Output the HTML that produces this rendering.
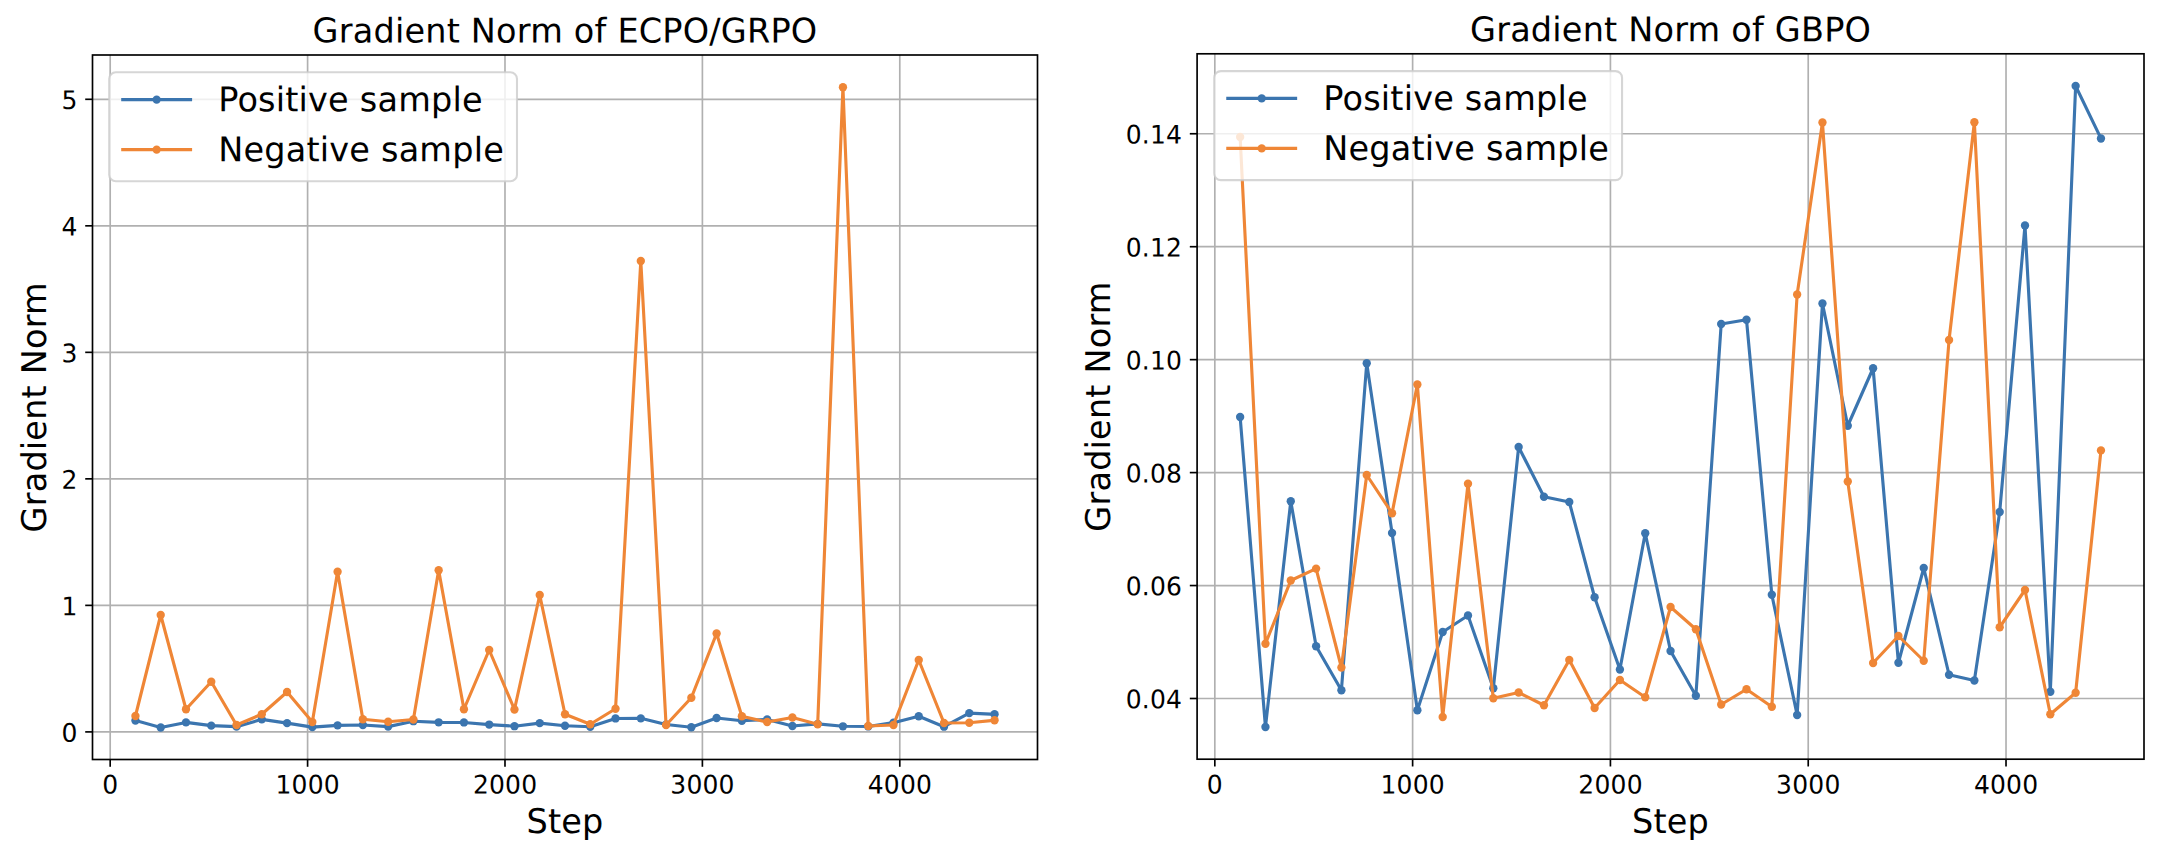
<!DOCTYPE html>
<html lang="en"><head><meta charset="utf-8"><title>Gradient Norm</title>
<style>html,body{margin:0;padding:0;background:#fff;}body{width:2184px;height:846px;overflow:hidden;}svg{display:block;}svg text{font-family:"DejaVu Sans", "Liberation Sans", sans-serif;fill:#000;letter-spacing:0.2px;}</style>
</head><body>
<svg width="2184" height="846" viewBox="0 0 2184 846">
<rect x="0" y="0" width="2184" height="846" fill="#fff"/>
<line x1="110.19" y1="55.00" x2="110.19" y2="759.50" stroke="#b0b0b0" stroke-width="1.67"/>
<line x1="307.59" y1="55.00" x2="307.59" y2="759.50" stroke="#b0b0b0" stroke-width="1.67"/>
<line x1="504.99" y1="55.00" x2="504.99" y2="759.50" stroke="#b0b0b0" stroke-width="1.67"/>
<line x1="702.39" y1="55.00" x2="702.39" y2="759.50" stroke="#b0b0b0" stroke-width="1.67"/>
<line x1="899.79" y1="55.00" x2="899.79" y2="759.50" stroke="#b0b0b0" stroke-width="1.67"/>
<line x1="92.50" y1="731.90" x2="1037.50" y2="731.90" stroke="#b0b0b0" stroke-width="1.67"/>
<line x1="92.50" y1="605.38" x2="1037.50" y2="605.38" stroke="#b0b0b0" stroke-width="1.67"/>
<line x1="92.50" y1="478.86" x2="1037.50" y2="478.86" stroke="#b0b0b0" stroke-width="1.67"/>
<line x1="92.50" y1="352.34" x2="1037.50" y2="352.34" stroke="#b0b0b0" stroke-width="1.67"/>
<line x1="92.50" y1="225.82" x2="1037.50" y2="225.82" stroke="#b0b0b0" stroke-width="1.67"/>
<line x1="92.50" y1="99.30" x2="1037.50" y2="99.30" stroke="#b0b0b0" stroke-width="1.67"/>
<polyline points="135.45,720.53 160.72,727.48 185.99,722.42 211.26,725.67 236.52,726.65 261.79,719.33 287.06,723.13 312.33,727.10 337.59,725.35 362.86,724.98 388.13,726.61 413.40,721.20 438.66,722.32 463.93,722.44 489.20,724.57 514.47,726.19 539.73,723.14 565.00,725.78 590.27,726.78 615.53,718.45 640.80,718.35 666.07,724.51 691.34,727.21 716.60,717.99 741.87,720.73 767.14,719.44 792.41,726.04 817.67,723.92 842.94,726.31 868.21,726.44 893.48,722.66 918.74,716.24 944.01,726.69 969.28,713.12 994.55,714.29" fill="none" stroke="#3b75af" stroke-width="3.125" stroke-linejoin="round" stroke-linecap="square"/>
<circle cx="135.45" cy="720.53" r="4.17" fill="#3b75af"/>
<circle cx="160.72" cy="727.48" r="4.17" fill="#3b75af"/>
<circle cx="185.99" cy="722.42" r="4.17" fill="#3b75af"/>
<circle cx="211.26" cy="725.67" r="4.17" fill="#3b75af"/>
<circle cx="236.52" cy="726.65" r="4.17" fill="#3b75af"/>
<circle cx="261.79" cy="719.33" r="4.17" fill="#3b75af"/>
<circle cx="287.06" cy="723.13" r="4.17" fill="#3b75af"/>
<circle cx="312.33" cy="727.10" r="4.17" fill="#3b75af"/>
<circle cx="337.59" cy="725.35" r="4.17" fill="#3b75af"/>
<circle cx="362.86" cy="724.98" r="4.17" fill="#3b75af"/>
<circle cx="388.13" cy="726.61" r="4.17" fill="#3b75af"/>
<circle cx="413.40" cy="721.20" r="4.17" fill="#3b75af"/>
<circle cx="438.66" cy="722.32" r="4.17" fill="#3b75af"/>
<circle cx="463.93" cy="722.44" r="4.17" fill="#3b75af"/>
<circle cx="489.20" cy="724.57" r="4.17" fill="#3b75af"/>
<circle cx="514.47" cy="726.19" r="4.17" fill="#3b75af"/>
<circle cx="539.73" cy="723.14" r="4.17" fill="#3b75af"/>
<circle cx="565.00" cy="725.78" r="4.17" fill="#3b75af"/>
<circle cx="590.27" cy="726.78" r="4.17" fill="#3b75af"/>
<circle cx="615.53" cy="718.45" r="4.17" fill="#3b75af"/>
<circle cx="640.80" cy="718.35" r="4.17" fill="#3b75af"/>
<circle cx="666.07" cy="724.51" r="4.17" fill="#3b75af"/>
<circle cx="691.34" cy="727.21" r="4.17" fill="#3b75af"/>
<circle cx="716.60" cy="717.99" r="4.17" fill="#3b75af"/>
<circle cx="741.87" cy="720.73" r="4.17" fill="#3b75af"/>
<circle cx="767.14" cy="719.44" r="4.17" fill="#3b75af"/>
<circle cx="792.41" cy="726.04" r="4.17" fill="#3b75af"/>
<circle cx="817.67" cy="723.92" r="4.17" fill="#3b75af"/>
<circle cx="842.94" cy="726.31" r="4.17" fill="#3b75af"/>
<circle cx="868.21" cy="726.44" r="4.17" fill="#3b75af"/>
<circle cx="893.48" cy="722.66" r="4.17" fill="#3b75af"/>
<circle cx="918.74" cy="716.24" r="4.17" fill="#3b75af"/>
<circle cx="944.01" cy="726.69" r="4.17" fill="#3b75af"/>
<circle cx="969.28" cy="713.12" r="4.17" fill="#3b75af"/>
<circle cx="994.55" cy="714.29" r="4.17" fill="#3b75af"/>
<polyline points="135.45,716.00 160.72,615.00 185.99,709.25 211.26,681.75 236.52,725.00 261.79,714.25 287.06,692.00 312.33,722.00 337.59,571.75 362.86,719.25 388.13,721.75 413.40,719.50 438.66,570.25 463.93,709.25 489.20,650.00 514.47,709.50 539.73,595.00 565.00,714.25 590.27,724.25 615.53,708.75 640.80,261.00 666.07,725.00 691.34,697.75 716.60,633.50 741.87,716.25 767.14,722.00 792.41,717.50 817.67,724.25 842.94,87.25 868.21,726.00 893.48,725.00 918.74,660.00 944.01,723.00 969.28,722.75 994.55,720.25" fill="none" stroke="#ef8636" stroke-width="3.125" stroke-linejoin="round" stroke-linecap="square"/>
<circle cx="135.45" cy="716.00" r="4.17" fill="#ef8636"/>
<circle cx="160.72" cy="615.00" r="4.17" fill="#ef8636"/>
<circle cx="185.99" cy="709.25" r="4.17" fill="#ef8636"/>
<circle cx="211.26" cy="681.75" r="4.17" fill="#ef8636"/>
<circle cx="236.52" cy="725.00" r="4.17" fill="#ef8636"/>
<circle cx="261.79" cy="714.25" r="4.17" fill="#ef8636"/>
<circle cx="287.06" cy="692.00" r="4.17" fill="#ef8636"/>
<circle cx="312.33" cy="722.00" r="4.17" fill="#ef8636"/>
<circle cx="337.59" cy="571.75" r="4.17" fill="#ef8636"/>
<circle cx="362.86" cy="719.25" r="4.17" fill="#ef8636"/>
<circle cx="388.13" cy="721.75" r="4.17" fill="#ef8636"/>
<circle cx="413.40" cy="719.50" r="4.17" fill="#ef8636"/>
<circle cx="438.66" cy="570.25" r="4.17" fill="#ef8636"/>
<circle cx="463.93" cy="709.25" r="4.17" fill="#ef8636"/>
<circle cx="489.20" cy="650.00" r="4.17" fill="#ef8636"/>
<circle cx="514.47" cy="709.50" r="4.17" fill="#ef8636"/>
<circle cx="539.73" cy="595.00" r="4.17" fill="#ef8636"/>
<circle cx="565.00" cy="714.25" r="4.17" fill="#ef8636"/>
<circle cx="590.27" cy="724.25" r="4.17" fill="#ef8636"/>
<circle cx="615.53" cy="708.75" r="4.17" fill="#ef8636"/>
<circle cx="640.80" cy="261.00" r="4.17" fill="#ef8636"/>
<circle cx="666.07" cy="725.00" r="4.17" fill="#ef8636"/>
<circle cx="691.34" cy="697.75" r="4.17" fill="#ef8636"/>
<circle cx="716.60" cy="633.50" r="4.17" fill="#ef8636"/>
<circle cx="741.87" cy="716.25" r="4.17" fill="#ef8636"/>
<circle cx="767.14" cy="722.00" r="4.17" fill="#ef8636"/>
<circle cx="792.41" cy="717.50" r="4.17" fill="#ef8636"/>
<circle cx="817.67" cy="724.25" r="4.17" fill="#ef8636"/>
<circle cx="842.94" cy="87.25" r="4.17" fill="#ef8636"/>
<circle cx="868.21" cy="726.00" r="4.17" fill="#ef8636"/>
<circle cx="893.48" cy="725.00" r="4.17" fill="#ef8636"/>
<circle cx="918.74" cy="660.00" r="4.17" fill="#ef8636"/>
<circle cx="944.01" cy="723.00" r="4.17" fill="#ef8636"/>
<circle cx="969.28" cy="722.75" r="4.17" fill="#ef8636"/>
<circle cx="994.55" cy="720.25" r="4.17" fill="#ef8636"/>
<line x1="110.19" y1="759.50" x2="110.19" y2="766.79" stroke="#000" stroke-width="1.67"/>
<text transform="translate(110.29,793.50) scale(1,1.020) rotate(0.03)" font-size="25.00" text-anchor="middle" class="tk">0</text>
<line x1="307.59" y1="759.50" x2="307.59" y2="766.79" stroke="#000" stroke-width="1.67"/>
<text transform="translate(307.69,793.50) scale(1,1.020) rotate(0.03)" font-size="25.00" text-anchor="middle" class="tk">1000</text>
<line x1="504.99" y1="759.50" x2="504.99" y2="766.79" stroke="#000" stroke-width="1.67"/>
<text transform="translate(505.09,793.50) scale(1,1.020) rotate(0.03)" font-size="25.00" text-anchor="middle" class="tk">2000</text>
<line x1="702.39" y1="759.50" x2="702.39" y2="766.79" stroke="#000" stroke-width="1.67"/>
<text transform="translate(702.49,793.50) scale(1,1.020) rotate(0.03)" font-size="25.00" text-anchor="middle" class="tk">3000</text>
<line x1="899.79" y1="759.50" x2="899.79" y2="766.79" stroke="#000" stroke-width="1.67"/>
<text transform="translate(899.89,793.50) scale(1,1.020) rotate(0.03)" font-size="25.00" text-anchor="middle" class="tk">4000</text>
<line x1="85.21" y1="731.90" x2="92.50" y2="731.90" stroke="#000" stroke-width="1.67"/>
<text transform="translate(77.51,741.70) scale(1,1.020) rotate(0.03)" font-size="25.00" text-anchor="end" class="tk">0</text>
<line x1="85.21" y1="605.38" x2="92.50" y2="605.38" stroke="#000" stroke-width="1.67"/>
<text transform="translate(77.51,615.18) scale(1,1.020) rotate(0.03)" font-size="25.00" text-anchor="end" class="tk">1</text>
<line x1="85.21" y1="478.86" x2="92.50" y2="478.86" stroke="#000" stroke-width="1.67"/>
<text transform="translate(77.51,488.66) scale(1,1.020) rotate(0.03)" font-size="25.00" text-anchor="end" class="tk">2</text>
<line x1="85.21" y1="352.34" x2="92.50" y2="352.34" stroke="#000" stroke-width="1.67"/>
<text transform="translate(77.51,362.14) scale(1,1.020) rotate(0.03)" font-size="25.00" text-anchor="end" class="tk">3</text>
<line x1="85.21" y1="225.82" x2="92.50" y2="225.82" stroke="#000" stroke-width="1.67"/>
<text transform="translate(77.51,235.62) scale(1,1.020) rotate(0.03)" font-size="25.00" text-anchor="end" class="tk">4</text>
<line x1="85.21" y1="99.30" x2="92.50" y2="99.30" stroke="#000" stroke-width="1.67"/>
<text transform="translate(77.51,109.10) scale(1,1.020) rotate(0.03)" font-size="25.00" text-anchor="end" class="tk">5</text>
<rect x="92.50" y="55.00" width="945.00" height="704.50" fill="none" stroke="#000" stroke-width="1.67"/>
<text transform="translate(565.00,42.50) rotate(0.03) scale(1,1.015)" font-size="33.50" text-anchor="middle">Gradient Norm of ECPO/GRPO</text>
<text transform="translate(565.00,833.10) rotate(0.03) scale(1,1.015)" font-size="33.50" text-anchor="middle">Step</text>
<text transform="translate(46.00,407.25) rotate(-90.03) scale(1,1.015)" font-size="33.50" text-anchor="middle">Gradient Norm</text>
<rect x="109.20" y="72.30" width="407.80" height="109.00" rx="6.67" ry="6.67" fill="#fff" fill-opacity="0.8" stroke="#ccc" stroke-opacity="0.8" stroke-width="2.08"/>
<line x1="121.20" y1="99.60" x2="192.10" y2="99.60" stroke="#3b75af" stroke-width="3.125"/>
<circle cx="156.65" cy="99.60" r="4.17" fill="#3b75af"/>
<text transform="translate(218.20,111.25) rotate(0.03) scale(1,1.015)" font-size="33.50">Positive sample</text>
<line x1="121.20" y1="149.60" x2="192.10" y2="149.60" stroke="#ef8636" stroke-width="3.125"/>
<circle cx="156.65" cy="149.60" r="4.17" fill="#ef8636"/>
<text transform="translate(218.20,161.25) rotate(0.03) scale(1,1.015)" font-size="33.50">Negative sample</text>
<line x1="1214.82" y1="53.80" x2="1214.82" y2="759.20" stroke="#b0b0b0" stroke-width="1.67"/>
<line x1="1412.62" y1="53.80" x2="1412.62" y2="759.20" stroke="#b0b0b0" stroke-width="1.67"/>
<line x1="1610.42" y1="53.80" x2="1610.42" y2="759.20" stroke="#b0b0b0" stroke-width="1.67"/>
<line x1="1808.22" y1="53.80" x2="1808.22" y2="759.20" stroke="#b0b0b0" stroke-width="1.67"/>
<line x1="2006.02" y1="53.80" x2="2006.02" y2="759.20" stroke="#b0b0b0" stroke-width="1.67"/>
<line x1="1197.10" y1="698.50" x2="2144.00" y2="698.50" stroke="#b0b0b0" stroke-width="1.67"/>
<line x1="1197.10" y1="585.55" x2="2144.00" y2="585.55" stroke="#b0b0b0" stroke-width="1.67"/>
<line x1="1197.10" y1="472.60" x2="2144.00" y2="472.60" stroke="#b0b0b0" stroke-width="1.67"/>
<line x1="1197.10" y1="359.65" x2="2144.00" y2="359.65" stroke="#b0b0b0" stroke-width="1.67"/>
<line x1="1197.10" y1="246.70" x2="2144.00" y2="246.70" stroke="#b0b0b0" stroke-width="1.67"/>
<line x1="1197.10" y1="133.75" x2="2144.00" y2="133.75" stroke="#b0b0b0" stroke-width="1.67"/>
<polyline points="1240.14,417.00 1265.46,727.00 1290.78,501.25 1316.10,646.25 1341.41,690.25 1366.73,363.25 1392.05,533.00 1417.37,710.25 1442.69,632.00 1468.00,615.50 1493.32,688.25 1518.64,447.00 1543.96,496.75 1569.28,502.00 1594.60,597.25 1619.91,669.50 1645.23,533.25 1670.55,651.00 1695.87,695.75 1721.19,324.00 1746.50,319.75 1771.82,594.75 1797.14,715.00 1822.46,303.50 1847.78,425.75 1873.10,368.25 1898.41,662.75 1923.73,568.00 1949.05,674.75 1974.37,680.50 1999.69,512.00 2025.00,225.50 2050.32,691.75 2075.64,86.00 2100.96,138.50" fill="none" stroke="#3b75af" stroke-width="3.125" stroke-linejoin="round" stroke-linecap="square"/>
<circle cx="1240.14" cy="417.00" r="4.17" fill="#3b75af"/>
<circle cx="1265.46" cy="727.00" r="4.17" fill="#3b75af"/>
<circle cx="1290.78" cy="501.25" r="4.17" fill="#3b75af"/>
<circle cx="1316.10" cy="646.25" r="4.17" fill="#3b75af"/>
<circle cx="1341.41" cy="690.25" r="4.17" fill="#3b75af"/>
<circle cx="1366.73" cy="363.25" r="4.17" fill="#3b75af"/>
<circle cx="1392.05" cy="533.00" r="4.17" fill="#3b75af"/>
<circle cx="1417.37" cy="710.25" r="4.17" fill="#3b75af"/>
<circle cx="1442.69" cy="632.00" r="4.17" fill="#3b75af"/>
<circle cx="1468.00" cy="615.50" r="4.17" fill="#3b75af"/>
<circle cx="1493.32" cy="688.25" r="4.17" fill="#3b75af"/>
<circle cx="1518.64" cy="447.00" r="4.17" fill="#3b75af"/>
<circle cx="1543.96" cy="496.75" r="4.17" fill="#3b75af"/>
<circle cx="1569.28" cy="502.00" r="4.17" fill="#3b75af"/>
<circle cx="1594.60" cy="597.25" r="4.17" fill="#3b75af"/>
<circle cx="1619.91" cy="669.50" r="4.17" fill="#3b75af"/>
<circle cx="1645.23" cy="533.25" r="4.17" fill="#3b75af"/>
<circle cx="1670.55" cy="651.00" r="4.17" fill="#3b75af"/>
<circle cx="1695.87" cy="695.75" r="4.17" fill="#3b75af"/>
<circle cx="1721.19" cy="324.00" r="4.17" fill="#3b75af"/>
<circle cx="1746.50" cy="319.75" r="4.17" fill="#3b75af"/>
<circle cx="1771.82" cy="594.75" r="4.17" fill="#3b75af"/>
<circle cx="1797.14" cy="715.00" r="4.17" fill="#3b75af"/>
<circle cx="1822.46" cy="303.50" r="4.17" fill="#3b75af"/>
<circle cx="1847.78" cy="425.75" r="4.17" fill="#3b75af"/>
<circle cx="1873.10" cy="368.25" r="4.17" fill="#3b75af"/>
<circle cx="1898.41" cy="662.75" r="4.17" fill="#3b75af"/>
<circle cx="1923.73" cy="568.00" r="4.17" fill="#3b75af"/>
<circle cx="1949.05" cy="674.75" r="4.17" fill="#3b75af"/>
<circle cx="1974.37" cy="680.50" r="4.17" fill="#3b75af"/>
<circle cx="1999.69" cy="512.00" r="4.17" fill="#3b75af"/>
<circle cx="2025.00" cy="225.50" r="4.17" fill="#3b75af"/>
<circle cx="2050.32" cy="691.75" r="4.17" fill="#3b75af"/>
<circle cx="2075.64" cy="86.00" r="4.17" fill="#3b75af"/>
<circle cx="2100.96" cy="138.50" r="4.17" fill="#3b75af"/>
<polyline points="1240.14,137.00 1265.46,643.75 1290.78,580.50 1316.10,568.60 1341.41,667.50 1366.73,475.00 1392.05,513.25 1417.37,384.50 1442.69,717.00 1468.00,483.75 1493.32,698.25 1518.64,692.50 1543.96,705.25 1569.28,660.00 1594.60,708.00 1619.91,680.00 1645.23,697.25 1670.55,607.00 1695.87,629.25 1721.19,704.50 1746.50,689.25 1771.82,706.75 1797.14,294.50 1822.46,122.50 1847.78,481.50 1873.10,663.00 1898.41,636.00 1923.73,660.75 1949.05,340.00 1974.37,122.25 1999.69,627.25 2025.00,590.00 2050.32,714.25 2075.64,692.75 2100.96,450.40" fill="none" stroke="#ef8636" stroke-width="3.125" stroke-linejoin="round" stroke-linecap="square"/>
<circle cx="1240.14" cy="137.00" r="4.17" fill="#ef8636"/>
<circle cx="1265.46" cy="643.75" r="4.17" fill="#ef8636"/>
<circle cx="1290.78" cy="580.50" r="4.17" fill="#ef8636"/>
<circle cx="1316.10" cy="568.60" r="4.17" fill="#ef8636"/>
<circle cx="1341.41" cy="667.50" r="4.17" fill="#ef8636"/>
<circle cx="1366.73" cy="475.00" r="4.17" fill="#ef8636"/>
<circle cx="1392.05" cy="513.25" r="4.17" fill="#ef8636"/>
<circle cx="1417.37" cy="384.50" r="4.17" fill="#ef8636"/>
<circle cx="1442.69" cy="717.00" r="4.17" fill="#ef8636"/>
<circle cx="1468.00" cy="483.75" r="4.17" fill="#ef8636"/>
<circle cx="1493.32" cy="698.25" r="4.17" fill="#ef8636"/>
<circle cx="1518.64" cy="692.50" r="4.17" fill="#ef8636"/>
<circle cx="1543.96" cy="705.25" r="4.17" fill="#ef8636"/>
<circle cx="1569.28" cy="660.00" r="4.17" fill="#ef8636"/>
<circle cx="1594.60" cy="708.00" r="4.17" fill="#ef8636"/>
<circle cx="1619.91" cy="680.00" r="4.17" fill="#ef8636"/>
<circle cx="1645.23" cy="697.25" r="4.17" fill="#ef8636"/>
<circle cx="1670.55" cy="607.00" r="4.17" fill="#ef8636"/>
<circle cx="1695.87" cy="629.25" r="4.17" fill="#ef8636"/>
<circle cx="1721.19" cy="704.50" r="4.17" fill="#ef8636"/>
<circle cx="1746.50" cy="689.25" r="4.17" fill="#ef8636"/>
<circle cx="1771.82" cy="706.75" r="4.17" fill="#ef8636"/>
<circle cx="1797.14" cy="294.50" r="4.17" fill="#ef8636"/>
<circle cx="1822.46" cy="122.50" r="4.17" fill="#ef8636"/>
<circle cx="1847.78" cy="481.50" r="4.17" fill="#ef8636"/>
<circle cx="1873.10" cy="663.00" r="4.17" fill="#ef8636"/>
<circle cx="1898.41" cy="636.00" r="4.17" fill="#ef8636"/>
<circle cx="1923.73" cy="660.75" r="4.17" fill="#ef8636"/>
<circle cx="1949.05" cy="340.00" r="4.17" fill="#ef8636"/>
<circle cx="1974.37" cy="122.25" r="4.17" fill="#ef8636"/>
<circle cx="1999.69" cy="627.25" r="4.17" fill="#ef8636"/>
<circle cx="2025.00" cy="590.00" r="4.17" fill="#ef8636"/>
<circle cx="2050.32" cy="714.25" r="4.17" fill="#ef8636"/>
<circle cx="2075.64" cy="692.75" r="4.17" fill="#ef8636"/>
<circle cx="2100.96" cy="450.40" r="4.17" fill="#ef8636"/>
<line x1="1214.82" y1="759.20" x2="1214.82" y2="766.49" stroke="#000" stroke-width="1.67"/>
<text transform="translate(1214.92,793.50) scale(1,1.020) rotate(0.03)" font-size="25.00" text-anchor="middle" class="tk">0</text>
<line x1="1412.62" y1="759.20" x2="1412.62" y2="766.49" stroke="#000" stroke-width="1.67"/>
<text transform="translate(1412.72,793.50) scale(1,1.020) rotate(0.03)" font-size="25.00" text-anchor="middle" class="tk">1000</text>
<line x1="1610.42" y1="759.20" x2="1610.42" y2="766.49" stroke="#000" stroke-width="1.67"/>
<text transform="translate(1610.52,793.50) scale(1,1.020) rotate(0.03)" font-size="25.00" text-anchor="middle" class="tk">2000</text>
<line x1="1808.22" y1="759.20" x2="1808.22" y2="766.49" stroke="#000" stroke-width="1.67"/>
<text transform="translate(1808.32,793.50) scale(1,1.020) rotate(0.03)" font-size="25.00" text-anchor="middle" class="tk">3000</text>
<line x1="2006.02" y1="759.20" x2="2006.02" y2="766.49" stroke="#000" stroke-width="1.67"/>
<text transform="translate(2006.12,793.50) scale(1,1.020) rotate(0.03)" font-size="25.00" text-anchor="middle" class="tk">4000</text>
<line x1="1189.81" y1="698.50" x2="1197.10" y2="698.50" stroke="#000" stroke-width="1.67"/>
<text transform="translate(1182.11,708.30) scale(1,1.020) rotate(0.03)" font-size="25.00" text-anchor="end" class="tk">0.04</text>
<line x1="1189.81" y1="585.55" x2="1197.10" y2="585.55" stroke="#000" stroke-width="1.67"/>
<text transform="translate(1182.11,595.35) scale(1,1.020) rotate(0.03)" font-size="25.00" text-anchor="end" class="tk">0.06</text>
<line x1="1189.81" y1="472.60" x2="1197.10" y2="472.60" stroke="#000" stroke-width="1.67"/>
<text transform="translate(1182.11,482.40) scale(1,1.020) rotate(0.03)" font-size="25.00" text-anchor="end" class="tk">0.08</text>
<line x1="1189.81" y1="359.65" x2="1197.10" y2="359.65" stroke="#000" stroke-width="1.67"/>
<text transform="translate(1182.11,369.45) scale(1,1.020) rotate(0.03)" font-size="25.00" text-anchor="end" class="tk">0.10</text>
<line x1="1189.81" y1="246.70" x2="1197.10" y2="246.70" stroke="#000" stroke-width="1.67"/>
<text transform="translate(1182.11,256.50) scale(1,1.020) rotate(0.03)" font-size="25.00" text-anchor="end" class="tk">0.12</text>
<line x1="1189.81" y1="133.75" x2="1197.10" y2="133.75" stroke="#000" stroke-width="1.67"/>
<text transform="translate(1182.11,143.55) scale(1,1.020) rotate(0.03)" font-size="25.00" text-anchor="end" class="tk">0.14</text>
<rect x="1197.10" y="53.80" width="946.90" height="705.40" fill="none" stroke="#000" stroke-width="1.67"/>
<text transform="translate(1670.55,41.30) rotate(0.03) scale(1,1.015)" font-size="33.50" text-anchor="middle">Gradient Norm of GBPO</text>
<text transform="translate(1670.55,833.10) rotate(0.03) scale(1,1.015)" font-size="33.50" text-anchor="middle">Step</text>
<text transform="translate(1110.00,406.50) rotate(-90.03) scale(1,1.015)" font-size="33.50" text-anchor="middle">Gradient Norm</text>
<rect x="1214.25" y="71.10" width="407.80" height="109.00" rx="6.67" ry="6.67" fill="#fff" fill-opacity="0.8" stroke="#ccc" stroke-opacity="0.8" stroke-width="2.08"/>
<line x1="1226.25" y1="98.40" x2="1297.15" y2="98.40" stroke="#3b75af" stroke-width="3.125"/>
<circle cx="1261.70" cy="98.40" r="4.17" fill="#3b75af"/>
<text transform="translate(1323.25,110.00) rotate(0.03) scale(1,1.015)" font-size="33.50">Positive sample</text>
<line x1="1226.25" y1="148.40" x2="1297.15" y2="148.40" stroke="#ef8636" stroke-width="3.125"/>
<circle cx="1261.70" cy="148.40" r="4.17" fill="#ef8636"/>
<text transform="translate(1323.25,160.00) rotate(0.03) scale(1,1.015)" font-size="33.50">Negative sample</text>
</svg></body></html>
